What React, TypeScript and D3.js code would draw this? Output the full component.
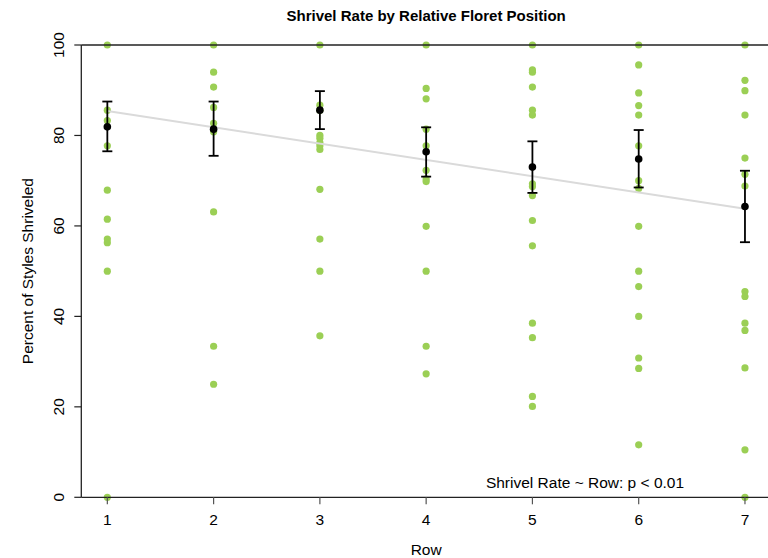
import * as d3 from 'd3';

// Observed shrivel rate (%) for each floret row
const rows = [1, 2, 3, 4, 5, 6, 7];
const row1 = [100, 85.6, 83.3, 77.7, 67.9, 61.5, 57.1, 56.3, 50, 0];
const row2 = [100, 94.0, 90.7, 86.2, 82.7, 80.8, 63.1, 33.4, 25.0];
const row3 = [100, 86.7, 85.6, 80.0, 79.4, 78.4, 77.7, 76.9, 68.1, 57.1, 50, 35.7];
const row4 = [100, 90.4, 88.1, 81.4, 77.7, 72.3, 70.4, 69.8, 59.9, 50, 33.4, 27.3];
const row5 = [100, 94.5, 94.0, 90.7, 85.6, 84.5, 69.3, 68.7, 66.7, 61.2, 55.6, 38.5, 35.3, 22.3, 20.1];
const row6 = [100, 95.6, 89.4, 86.6, 84.5, 77.7, 70.0, 68.3, 59.9, 50, 46.6, 40.0, 30.8, 28.5, 11.6];
const row7 = [100, 92.2, 89.9, 84.5, 75.0, 71.4, 68.8, 45.5, 44.4, 38.5, 36.9, 28.6, 10.5, 0];
const observed = [row1, row2, row3, row4, row5, row6, row7];

// Mean and error bar limits per row
const means = [81.9, 81.4, 85.6, 76.4, 73.0, 74.8, 64.3];
const upper = [87.5, 87.5, 89.8, 81.8, 78.7, 81.2, 72.2];
const lower = [76.5, 75.5, 81.4, 70.9, 67.3, 68.5, 56.4];

// Fitted line: rate = intercept + slope * row
const fitIntercept = 89.0;
const fitSlope = -3.6;

const yTicks = [0, 20, 40, 60, 80, 100];

const W = 768;
const H = 558;
const font = "'Liberation Sans', Arial, sans-serif";

export default function App() {
  const x = d3.scaleLinear().domain([0.755, 7.245]).range([81.3, 771]);
  const y = d3.scaleLinear().domain([0, 100]).range([497.3, 45]);
  const [x0, x1] = x.range();
  const [yb, yt] = y.range();

  const fitLine = d3.line<number>()
    .x(d => x(d))
    .y(d => y(fitIntercept + fitSlope * d));

  return (
    <svg width={W} height={H} style={{ position: 'absolute', left: 0, top: 0, background: '#fff' }}
      fontFamily={font}>
      {/* Title */}
      <text x={(x0 + x1) / 2} y={20.5} textAnchor="middle" fontWeight="bold" fontSize={15}
        fill="#000">Shrivel Rate by Relative Floret Position</text>

      {/* Raw points */}
      {observed.map((vals, i) => vals.map((v, j) => (
        <circle key={`p${i}-${j}`} cx={x(rows[i])} cy={y(v)} r={3.6} fill="#9BCF55" />
      )))}

      {/* Regression line */}
      <path d={fitLine([1, 7]) || ''} fill="none" stroke="#DADADA" strokeWidth={2} />

      {/* Error bars and means */}
      {rows.map((r, i) => (
        <g key={`e${r}`} stroke="#000" strokeWidth={1.8}>
          <line x1={x(r)} x2={x(r)} y1={y(upper[i])} y2={y(lower[i])} />
          <line x1={x(r) - 5} x2={x(r) + 5} y1={y(upper[i])} y2={y(upper[i])} />
          <line x1={x(r) - 5} x2={x(r) + 5} y1={y(lower[i])} y2={y(lower[i])} />
          <circle cx={x(r)} cy={y(means[i])} r={3.8} fill="#000" stroke="none" />
        </g>
      ))}

      {/* Frame: left, top, bottom */}
      <g stroke="#222" strokeWidth={1.3} fill="none">
        <line x1={x0} x2={x0} y1={yt} y2={yb} />
        <line x1={x0} x2={x1} y1={yt} y2={yt} />
        <line x1={x0} x2={x1} y1={yb} y2={yb} />
      </g>

      {/* Y axis */}
      {yTicks.map(t => (
        <g key={`y${t}`}>
          <line x1={x0 - 7} x2={x0} y1={y(t)} y2={y(t)} stroke="#222" strokeWidth={1.2} />
          <text transform={`translate(64,${y(t)}) rotate(-90)`} textAnchor="middle" fontSize={15.5}
            fill="#000">{t}</text>
        </g>
      ))}

      {/* X axis */}
      {rows.map(r => (
        <g key={`x${r}`}>
          <line x1={x(r)} x2={x(r)} y1={yb} y2={yb + 7} stroke="#555" strokeWidth={1.2} />
          <text x={x(r)} y={yb + 28} textAnchor="middle" fontSize={15.5} fill="#000">{r}</text>
        </g>
      ))}

      {/* Axis labels */}
      <text x={(x0 + x1) / 2} y={555} textAnchor="middle" fontSize={15.5} fill="#000">Row</text>
      <text transform={`translate(33,${(yt + yb) / 2}) rotate(-90)`} textAnchor="middle" fontSize={15.5}
        fill="#000">Percent of Styles Shriveled</text>

      {/* Annotation */}
      <text x={585} y={488} textAnchor="middle" fontSize={15.5} fill="#000">Shrivel Rate ~ Row: p &lt; 0.01</text>
    </svg>
  );
}
